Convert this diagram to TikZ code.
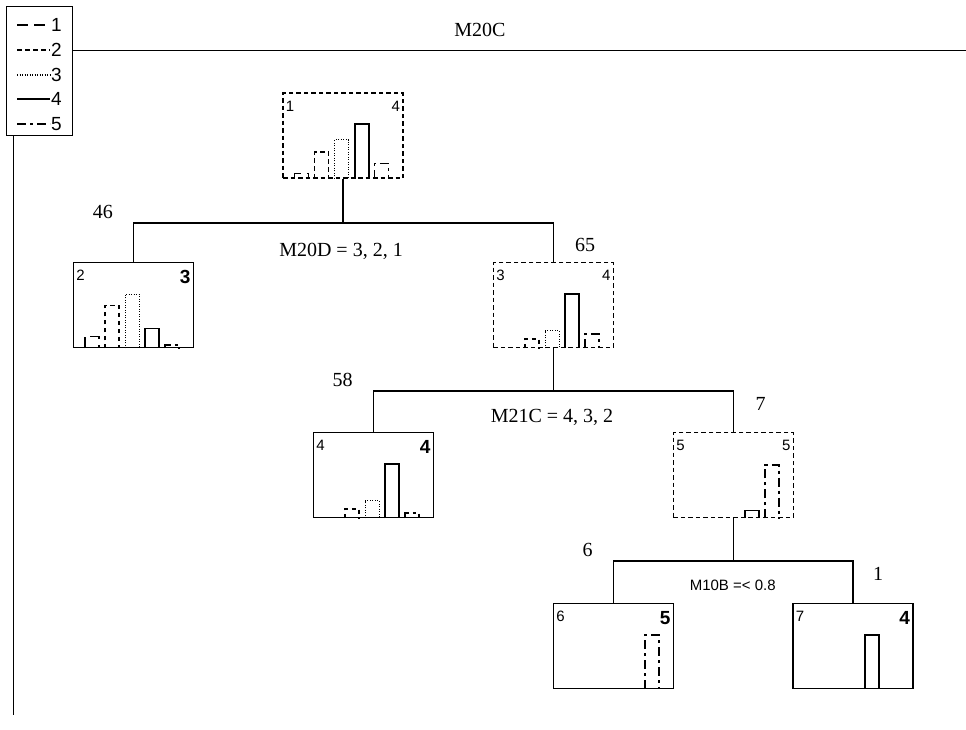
\documentclass[tikz,border=0pt]{standalone}
\usepackage{fontspec}
\setmainfont{Liberation Serif}
\newfontfamily\arialf{Liberation Sans}
\newcommand\histbars[6]{%
 \begin{scope}[shift={(#1.south west)}]
  \ifdim#2pt>0pt \draw[c1] (12.5,0) |- (26.5,-#2) -- (26.5,0);\fi
  \ifdim#3pt>0pt \draw[c2] (32.5,0) |- (46.5,-#3) -- (46.5,0);\fi
  \ifdim#4pt>0pt \draw[c3] (52.5,0) |- (66.5,-#4) -- (66.5,0);\fi
  \ifdim#5pt>0pt \draw[c4] (72.5,0) |- (86.5,-#5) -- (86.5,0);\fi
  \ifdim#6pt>0pt \draw[c5] (92.5,0) |- (106.5,-#6) -- (106.5,0);\fi
 \end{scope}}
\begin{document}
\begin{tikzpicture}[x=1pt,y=-1pt,
  every node/.style={inner sep=0pt},
  conn/.style={line width=1.5pt},
  leafbox/.style={draw, line width=1.5pt, minimum width=120pt, minimum height=85pt},
  innerbox/.style={draw, line width=1.5pt, dash pattern=on 4.5pt off 3pt, minimum width=120pt, minimum height=85pt},
  c1/.style={line width=1.3pt, dash pattern=on 11pt off 6pt},
  c2/.style={line width=1.3pt, dash pattern=on 4.5pt off 3.5pt},
  c3/.style={line width=1.1pt, dash pattern=on 1pt off 1.5pt},
  c4/.style={line width=1.5pt},
  c5/.style={line width=1.3pt, dash pattern=on 9pt off 4pt on 3pt off 4pt},
  nid/.style={font=\arialf\fontsize{15}{17}\selectfont, anchor=north west},
  ncl/.style={font=\arialf\fontsize{15}{17}\selectfont, anchor=north east},
  lcl/.style={font=\arialf\bfseries\fontsize{19}{21}\selectfont, anchor=north east},
  numlbl/.style={font=\fontsize{20}{22}\selectfont},
  splitlbl/.style={font=\fontsize{20}{22}\selectfont},
  leglbl/.style={font=\arialf\fontsize{19}{21}\selectfont, anchor=west},
]
\useasboundingbox (0,0) rectangle (966,729);

% legend
\node[draw, line width=1.3pt, minimum width=66pt, minimum height=129pt, anchor=north west] (legend) at (6,6) {};
\draw[c1] (17,25) -- (50,25);
\node[leglbl] (l1) at (51,25) {1};
\draw[c2] (17,50) -- (50,50);
\node[leglbl] (l2) at (51,50) {2};
\draw[c3] (17,75) -- (50,75);
\node[leglbl] (l3) at (51,75) {3};
\draw[c4] (17,99) -- (50,99);
\node[leglbl] (l4) at (51,99) {4};
\draw[c5] (17,124) -- (50,124);
\node[leglbl] (l5) at (51,124) {5};

\coordinate (tr) at (966,50.7);
\draw[conn] (legend.east |- tr) -- (tr);
\coordinate (bl) at (13.3,715);
\draw[conn] (legend.south -| bl) -- (bl);
\node[numlbl] (title) at (480,30) {M20C};

% nodes
\node[innerbox] (root) at (343,135.5) {};
\node[leafbox] (n2) at (133.3,305) {};
\node[innerbox] (n3) at (553.3,305) {};
\node[leafbox] (n4) at (373.3,475) {};
\node[innerbox] (n5) at (733.3,475) {};
\node[leafbox] (n6) at (613.3,645.8) {};
\node[leafbox] (n7) at (853,645.8) {};

% node labels
\node[nid] (root-id) at ([shift={(3.5,8.5)}]root.north west) {1};
\node[ncl] (root-cl) at ([shift={(-3.5,8.5)}]root.north east) {4};
\node[nid] (n2-id) at ([shift={(3.5,8.5)}]n2.north west) {2};
\node[lcl] (n2-cl) at ([shift={(-3.5,8.5)}]n2.north east) {3};
\node[nid] (n3-id) at ([shift={(3.5,8.5)}]n3.north west) {3};
\node[ncl] (n3-cl) at ([shift={(-3.5,8.5)}]n3.north east) {4};
\node[nid] (n4-id) at ([shift={(3.5,8.5)}]n4.north west) {4};
\node[lcl] (n4-cl) at ([shift={(-3.5,8.5)}]n4.north east) {4};
\node[nid] (n5-id) at ([shift={(3.5,8.5)}]n5.north west) {5};
\node[ncl] (n5-cl) at ([shift={(-3.5,8.5)}]n5.north east) {5};
\node[nid] (n6-id) at ([shift={(3.5,8.5)}]n6.north west) {6};
\node[lcl] (n6-cl) at ([shift={(-3.5,8.5)}]n6.north east) {5};
\node[nid] (n7-id) at ([shift={(3.5,8.5)}]n7.north west) {7};
\node[lcl] (n7-cl) at ([shift={(-3.5,8.5)}]n7.north east) {4};

% histograms
\histbars{root}{5}{26.7}{39}{55}{15}
\histbars{n2}{11.7}{42.7}{54}{20}{3.3}
\histbars{n3}{0}{9.3}{17.7}{54.3}{14.3}
\histbars{n4}{0}{9.3}{17.7}{54.3}{5.3}
\histbars{n5}{0}{0}{0}{7.7}{53.3}
\histbars{n6}{0}{0}{0}{0}{54}
\histbars{n7}{0}{0}{0}{54}{0}

% connectors
\coordinate (j1) at (343,223);
\draw[conn] (root.south) -- (root.south |- j1);
\draw[conn] (n2.north) -- (n2.north |- j1) -- (n3.north |- j1) -- (n3.north);
\coordinate (j2) at (553.3,391);
\draw[conn] (n3.south) -- (n3.south |- j2);
\draw[conn] (n4.north) -- (n4.north |- j2) -- (n5.north |- j2) -- (n5.north);
\coordinate (j3) at (733.3,561);
\draw[conn] (n5.south) -- (n5.south |- j3);
\draw[conn] (n6.north) -- (n6.north |- j3) -- (n7.north |- j3) -- (n7.north);

% edge / split labels
\node[numlbl] (c46) at (102.9,212) {46};
\node[numlbl] (c65) at (585,245) {65};
\node[splitlbl] (s1) at (341,251) {M20D = 3, 2, 1};
\node[numlbl] (c58) at (342.7,380) {58};
\node[numlbl] (c7) at (760.7,404) {7};
\node[splitlbl] (s2) at (552,417) {M21C = 4, 3, 2};
\node[numlbl] (c6) at (587.7,550) {6};
\node[numlbl] (c1n) at (878,574) {1};
\node[font=\arialf\fontsize{15}{17}\selectfont] (s3) at (732.7,585) {M10B =< 0.8};
\end{tikzpicture}
\end{document}
